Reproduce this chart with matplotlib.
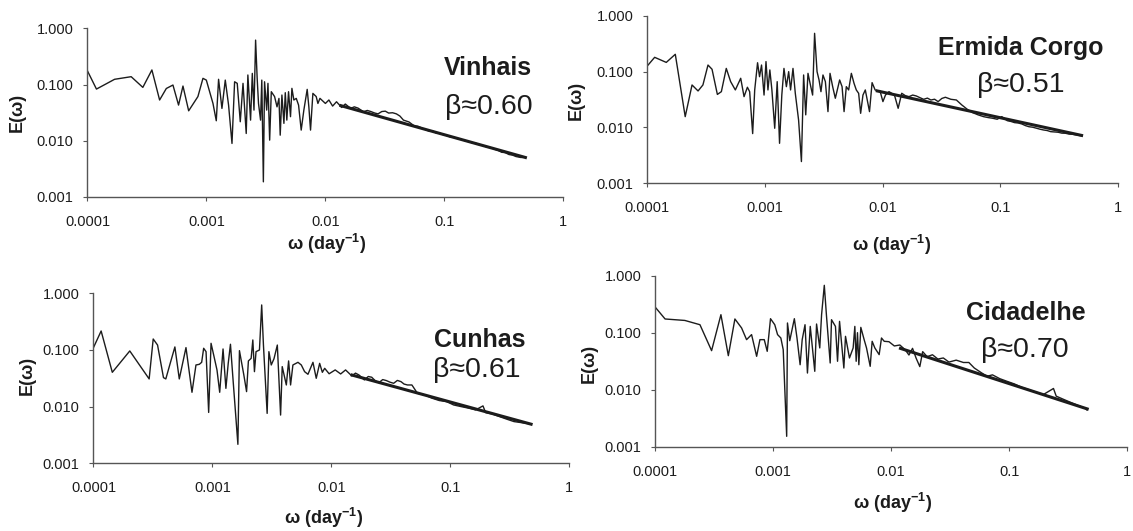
import numpy as np
import matplotlib
matplotlib.use('Agg')
import matplotlib.pyplot as plt
from matplotlib.ticker import FixedLocator, FixedFormatter

plt.rcParams['font.family'] = ['Liberation Sans', 'DejaVu Sans']
plt.rcParams['mathtext.fontset'] = 'custom'
plt.rcParams['mathtext.rm'] = 'Liberation Sans'
plt.rcParams['mathtext.bf'] = 'Liberation Sans:bold'

# ---- Vinhais ----
vin_w = [1.0e-4, 1.19e-4, 1.69e-4, 2.33e-4, 2.92e-4, 3.48e-4, 4.04e-4, 4.60e-4, 5.23e-4, 5.83e-4,
         6.35e-4, 7.09e-4, 8.48e-4, 9.35e-4, 9.98e-4, 1.135e-3, 1.21e-3, 1.265e-3, 1.35e-3, 1.44e-3,
         1.535e-3, 1.64e-3, 1.725e-3, 1.815e-3, 1.925e-3, 2.03e-3, 2.16e-3, 2.23e-3, 2.35e-3, 2.43e-3,
         2.51e-3, 2.59e-3, 2.67e-3, 2.74e-3, 2.85e-3, 2.92e-3, 3.01e-3, 3.08e-3, 3.21e-3, 3.29e-3,
         3.40e-3, 3.51e-3, 3.74e-3, 3.92e-3, 4.07e-3, 4.17e-3, 4.31e-3, 4.48e-3, 4.60e-3, 4.74e-3,
         4.90e-3, 5.09e-3, 5.23e-3, 5.43e-3, 5.69e-3, 5.95e-3, 6.26e-3, 6.59e-3, 7.03e-3, 7.26e-3,
         7.50e-3, 7.85e-3, 8.37e-3, 8.65e-3, 9.0e-3, 0.0100, 0.0107, 0.0115, 0.0124, 0.0137,
         0.0147, 0.0163, 0.0175, 0.0188, 0.0209, 0.0225, 0.0241, 0.0260, 0.0277, 0.0298, 0.0319,
         0.0340, 0.0367, 0.0395, 0.0423, 0.0453, 0.0504, 0.056, 0.060, 0.0644, 0.069, 0.0742, 0.080,
         0.0855, 0.092, 0.0984, 0.105, 0.113, 0.121, 0.130, 0.140, 0.150, 0.161, 0.173, 0.186, 0.199,
         0.214, 0.229, 0.245, 0.263, 0.283, 0.303, 0.325, 0.349, 0.375, 0.40, 0.44, 0.48]
vin_e = [0.175, 0.083, 0.124, 0.138, 0.089, 0.182, 0.053, 0.085, 0.098, 0.043,
         0.094, 0.034, 0.061, 0.129, 0.120, 0.046, 0.0226, 0.124, 0.0375, 0.120,
         0.043, 0.0089, 0.112, 0.105, 0.0217, 0.105, 0.0134, 0.148, 0.0232, 0.158,
         0.035, 0.62, 0.129, 0.046, 0.0232, 0.120, 0.00184, 0.112, 0.035, 0.105,
         0.0102, 0.0745, 0.061, 0.040, 0.0566, 0.0125, 0.065, 0.0203, 0.0715, 0.0232,
         0.0745, 0.0267, 0.0855, 0.053, 0.0566, 0.043, 0.0154, 0.035, 0.082, 0.040,
         0.0154, 0.0695, 0.061, 0.046, 0.0567, 0.046, 0.053, 0.0413, 0.0493, 0.039,
         0.0449, 0.0376, 0.0400, 0.0380, 0.0327, 0.0345, 0.0330, 0.0310, 0.0300, 0.0330, 0.0335,
         0.0310, 0.0314, 0.0300, 0.0274, 0.0232, 0.0215, 0.0182, 0.0180, 0.0168, 0.0158, 0.0148, 0.0148,
         0.0136, 0.0135, 0.0127, 0.0123, 0.0115, 0.0114, 0.0108, 0.0104, 0.0099, 0.0096, 0.0090, 0.0089,
         0.0084, 0.0081, 0.00765, 0.0075, 0.00705, 0.0067, 0.0062, 0.0061, 0.00565, 0.0055, 0.0052,
         0.0050, 0.00505]
vin_fit_w = [0.0135, 0.48]
vin_fit_e = [0.042, 0.0050]

# ---- Ermida Corgo ----
erm_w = [1.0e-4, 1.155e-4, 1.45e-4, 1.73e-4, 2.10e-4, 2.40e-4, 2.70e-4, 2.97e-4, 3.28e-4, 3.55e-4,
         3.94e-4, 4.26e-4, 4.69e-4, 5.11e-4, 5.60e-4, 6.22e-4, 6.64e-4, 7.09e-4, 7.41e-4, 7.86e-4,
         8.18e-4, 8.65e-4, 8.99e-4, 9.35e-4, 9.82e-4, 1.02e-3, 1.06e-3, 1.10e-3, 1.145e-3, 1.21e-3,
         1.27e-3, 1.33e-3, 1.39e-3, 1.45e-3, 1.52e-3, 1.59e-3, 1.65e-3, 1.73e-3, 1.81e-3, 1.93e-3,
         2.04e-3, 2.13e-3, 2.22e-3, 2.32e-3, 2.45e-3, 2.54e-3, 2.64e-3, 2.77e-3, 2.88e-3, 2.99e-3,
         3.11e-3, 3.26e-3, 3.43e-3, 3.57e-3, 3.76e-3, 3.96e-3, 4.18e-3, 4.31e-3, 4.52e-3, 4.70e-3,
         4.91e-3, 5.14e-3, 5.42e-3, 5.71e-3, 5.97e-3, 6.25e-3, 6.50e-3, 6.80e-3, 7.12e-3, 7.73e-3,
         8.13e-3, 8.63e-3, 9.09e-3, 9.48e-3, 0.01005, 0.01057, 0.01132, 0.01259, 0.01354, 0.01452,
         0.01560, 0.01675, 0.0180, 0.0193, 0.0208, 0.0223, 0.0240, 0.0257, 0.0276, 0.0296, 0.0318,
         0.0341, 0.038, 0.0423, 0.047, 0.0524, 0.0582, 0.0647, 0.0720, 0.0790, 0.0861, 0.094, 0.1028,
         0.1146, 0.123, 0.132, 0.142, 0.152, 0.163, 0.175, 0.188, 0.202, 0.217, 0.233, 0.250, 0.268,
         0.289, 0.310, 0.333, 0.357, 0.383, 0.411, 0.45, 0.492]
erm_e = [0.126, 0.180, 0.146, 0.204, 0.0156, 0.0576, 0.045, 0.0576, 0.131, 0.110,
         0.039, 0.0437, 0.114, 0.066, 0.0469, 0.0759, 0.0356, 0.0524, 0.0437, 0.00776,
         0.0469, 0.144, 0.081, 0.131, 0.038, 0.151, 0.0469, 0.107, 0.0469, 0.00966,
         0.066, 0.0052, 0.038, 0.114, 0.0537, 0.0997, 0.0469, 0.114, 0.0408, 0.0136,
         0.00245, 0.0869, 0.0168, 0.093, 0.0537, 0.038, 0.484, 0.0997, 0.0708, 0.0437,
         0.0869, 0.066, 0.0192, 0.093, 0.0537, 0.0333, 0.0537, 0.0708, 0.0537, 0.0192,
         0.0537, 0.0469, 0.093, 0.0617, 0.0469, 0.0408, 0.0179, 0.038, 0.0469, 0.0192,
         0.0634, 0.0469, 0.045, 0.0456, 0.029, 0.0381, 0.0437, 0.0381, 0.022, 0.0409,
         0.0370, 0.0356, 0.0380, 0.0366, 0.0340, 0.0319, 0.0335, 0.031, 0.0320, 0.029, 0.0330,
         0.0347, 0.0319, 0.031, 0.0253, 0.0211, 0.0184, 0.0168, 0.0156, 0.0150, 0.0146, 0.0140, 0.0156,
         0.0132, 0.0128, 0.0122, 0.0120, 0.01155, 0.0108, 0.0103, 0.0101, 0.0097, 0.0093, 0.0090, 0.0088,
         0.0084, 0.0083, 0.0082, 0.0079, 0.00787, 0.0076, 0.00755, 0.0073, 0.00705]
erm_fit_w = [0.009, 0.49]
erm_fit_e = [0.045, 0.0072]

# ---- Cunhas ----
cun_w = [1.0e-4, 1.16e-4, 1.44e-4, 2.02e-4, 2.94e-4, 3.18e-4, 3.46e-4, 3.88e-4, 4.06e-4, 4.42e-4,
         4.84e-4, 5.27e-4, 6.0e-4, 6.74e-4, 7.28e-4, 7.77e-4, 8.13e-4, 8.45e-4, 8.85e-4, 9.31e-4,
         9.75e-4, 1.026e-3, 1.094e-3, 1.153e-3, 1.23e-3, 1.30e-3, 1.36e-3, 1.42e-3, 1.49e-3, 1.64e-3,
         1.69e-3, 1.84e-3, 1.94e-3, 2.01e-3, 2.12e-3, 2.19e-3, 2.26e-3, 2.33e-3, 2.49e-3, 2.60e-3,
         2.69e-3, 2.89e-3, 2.99e-3, 3.13e-3, 3.30e-3, 3.52e-3, 3.75e-3, 3.87e-3, 4.19e-3, 4.38e-3,
         4.55e-3, 4.76e-3, 5.25e-3, 5.60e-3, 5.97e-3, 6.37e-3, 7.02e-3, 7.48e-3, 7.99e-3, 8.42e-3,
         8.81e-3, 9.6e-3, 0.0108, 0.0120, 0.0132, 0.0149, 0.0160, 0.0171, 0.0190, 0.0205, 0.0219,
         0.0235, 0.0252, 0.0271, 0.0291, 0.0312, 0.0335, 0.0360, 0.0386, 0.0410, 0.0438, 0.0477,
         0.0531, 0.0611, 0.0703, 0.0811, 0.0933, 0.107, 0.124, 0.143, 0.164, 0.189, 0.199, 0.226,
         0.260, 0.300, 0.345, 0.397, 0.474]
cun_e = [0.11, 0.216, 0.0403, 0.096, 0.0308, 0.156, 0.122, 0.0325, 0.0308, 0.058,
         0.113, 0.0308, 0.110, 0.0179, 0.0543, 0.0558, 0.0605, 0.107, 0.0933, 0.0079,
         0.131, 0.0815, 0.0443, 0.0179, 0.104, 0.021, 0.058, 0.126, 0.0316, 0.00216,
         0.0972, 0.0362, 0.0184, 0.064, 0.0711, 0.150, 0.0414, 0.0933, 0.0998, 0.622,
         0.122, 0.0076, 0.0933, 0.0543, 0.0700, 0.122, 0.0071, 0.0508, 0.0241, 0.064,
         0.0241, 0.0543, 0.0605, 0.0543, 0.0414, 0.0372, 0.0605, 0.0316, 0.058, 0.0403,
         0.0474, 0.0380, 0.0444, 0.0377, 0.0444, 0.0348, 0.0390, 0.0362, 0.0296, 0.0340, 0.033,
         0.0285, 0.0265, 0.0300, 0.0288, 0.0270, 0.0258, 0.0290, 0.0276, 0.0250, 0.0241, 0.0241,
         0.0172, 0.0161, 0.0141, 0.0128, 0.0123, 0.0107, 0.0100, 0.0094, 0.00875, 0.0103, 0.00783, 0.00743,
         0.00667, 0.0060, 0.00544, 0.00522, 0.00495]
cun_fit_w = [0.015, 0.48]
cun_fit_e = [0.036, 0.0049]

# ---- Cidadelhe ----
cid_w = [1.0e-4, 1.21e-4, 1.78e-4, 2.39e-4, 3.0e-4, 3.60e-4, 4.16e-4, 4.73e-4, 5.39e-4, 5.94e-4,
         6.55e-4, 7.23e-4, 7.71e-4, 8.39e-4, 8.89e-4, 9.48e-4, 1.03e-3, 1.088e-3, 1.16e-3, 1.215e-3,
         1.30e-3, 1.32e-3, 1.38e-3, 1.51e-3, 1.59e-3, 1.69e-3, 1.76e-3, 1.86e-3, 1.95e-3, 2.06e-3,
         2.25e-3, 2.33e-3, 2.48e-3, 2.57e-3, 2.71e-3, 2.83e-3, 3.04e-3, 3.12e-3, 3.37e-3, 3.51e-3,
         3.65e-3, 3.97e-3, 4.10e-3, 4.43e-3, 4.76e-3, 4.92e-3, 5.05e-3, 5.18e-3, 5.32e-3, 5.53e-3,
         5.90e-3, 6.18e-3, 6.64e-3, 6.90e-3, 7.27e-3, 7.91e-3, 8.28e-3, 8.73e-3, 9.58e-3, 0.01064,
         0.01185, 0.0132, 0.01415, 0.01518, 0.0163, 0.0175, 0.0185, 0.0202, 0.0224, 0.0249, 0.0277,
         0.0309, 0.0356, 0.0410, 0.0456, 0.0507, 0.0585, 0.0651, 0.0723, 0.0834, 0.0962, 0.111, 0.128,
         0.147, 0.170, 0.195, 0.238, 0.251, 0.288, 0.332, 0.384, 0.442, 0.458]
cid_e = [0.279, 0.174, 0.164, 0.138, 0.0484, 0.207, 0.0395, 0.174, 0.121, 0.0755,
         0.0925, 0.0385, 0.0755, 0.0755, 0.0471, 0.176, 0.138, 0.0925, 0.0807, 0.0504,
         0.00152, 0.148, 0.0724, 0.176, 0.0807, 0.0274, 0.0755, 0.138, 0.0196, 0.129,
         0.0210, 0.142, 0.054, 0.207, 0.678, 0.194, 0.0294, 0.169, 0.129, 0.0315,
         0.158, 0.0240, 0.0863, 0.036, 0.054, 0.129, 0.0315, 0.100, 0.0274, 0.124,
         0.0755, 0.054, 0.0257, 0.0706, 0.054, 0.0412, 0.0807, 0.0706, 0.0695, 0.0585,
         0.0608, 0.0497, 0.0406, 0.0531, 0.0355, 0.0254, 0.0465, 0.0379, 0.0410, 0.0345, 0.0360,
         0.0305, 0.0330, 0.0300, 0.0300, 0.0240, 0.0197, 0.0172, 0.0182, 0.0156, 0.0140, 0.0126, 0.0110,
         0.0100, 0.0090, 0.0082, 0.0105, 0.0077, 0.0068, 0.0060, 0.0053, 0.0047, 0.0044]
cid_fit_w = [0.012, 0.46]
cid_fit_e = [0.053, 0.0046]

names = ['Vinhais', 'Ermida Corgo', 'Cunhas', 'Cidadelhe']
betas = ['β≈0.60', 'β≈0.51', 'β≈0.61', 'β≈0.70']

x_ticks = [1e-4, 1e-3, 1e-2, 1e-1, 1]
x_ticklabels = ['0.0001', '0.001', '0.01', '0.1', '1']
y_ticks = [1e-3, 1e-2, 1e-1, 1]
y_ticklabels = ['0.001', '0.010', '0.100', '1.000']

fig = plt.figure(figsize=(11.33, 5.31), dpi=100)

panels = [
    # rect, series, fit, name pos, beta pos, xlabel pos, ylabel pos
    ([0.0772, 0.6296, 0.420, 0.3168], vin_w, vin_e, vin_fit_w, vin_fit_e,
     (0.841, 0.762), (0.843, 0.533), (0.502, -0.281), (-0.148, 0.50)),
    ([0.5713, 0.6548, 0.4155, 0.3156], erm_w, erm_e, erm_fit_w, erm_fit_e,
     (0.794, 0.807), (0.794, 0.587), (0.518, -0.368), (-0.151, 0.497)),
    ([0.0825, 0.1275, 0.4197, 0.3202], cun_w, cun_e, cun_fit_w, cun_fit_e,
     (0.813, 0.725), (0.807, 0.549), (0.485, -0.322), (-0.140, 0.519)),
    ([0.5784, 0.1588, 0.4163, 0.3220], cid_w, cid_e, cid_fit_w, cid_fit_e,
     (0.786, 0.782), (0.784, 0.565), (0.504, -0.329), (-0.141, 0.489)),
]

ink = '#1c1c1c'
for i, (rect, w, e, fw, fe, npos, bpos, xlp, ylp) in enumerate(panels):
    ax = fig.add_axes(rect)
    ax.plot(w, e, color=ink, lw=1.0)
    ax.plot(fw, fe, color=ink, lw=2.2)
    ax.set_xscale('log')
    ax.set_yscale('log')
    ax.set_xlim(1e-4, 1)
    ax.set_ylim(1e-3, 1)
    ax.xaxis.set_major_locator(FixedLocator(x_ticks))
    ax.xaxis.set_major_formatter(FixedFormatter(x_ticklabels))
    ax.yaxis.set_major_locator(FixedLocator(y_ticks))
    ax.yaxis.set_major_formatter(FixedFormatter(y_ticklabels))
    ax.minorticks_off()
    for s in ['top', 'right']:
        ax.spines[s].set_visible(False)
    for s in ['left', 'bottom']:
        ax.spines[s].set_color('#555555')
        ax.spines[s].set_linewidth(1.0)
    ax.tick_params(axis='both', direction='out', length=3, width=0.8, color='#555555',
                   labelsize=10.5, labelcolor=ink)
    ax.tick_params(axis='x', pad=10)
    ax.tick_params(axis='y', pad=7)
    ax.set_xlabel(r'ω (day$^{\mathbf{-1}}$)', fontsize=13, fontweight='bold', color=ink)
    ax.xaxis.set_label_coords(*xlp)
    ax.xaxis.label.set_va('center')
    ax.set_ylabel('E(ω)', fontsize=13, fontweight='bold', color=ink)
    ax.yaxis.set_label_coords(*ylp)
    ax.yaxis.label.set_va('center')
    ax.text(npos[0], npos[1], names[i], transform=ax.transAxes, ha='center', va='center',
            fontsize=18, fontweight='bold', color=ink)
    ax.text(bpos[0], bpos[1], betas[i], transform=ax.transAxes, ha='center', va='center',
            fontsize=20.5, color=ink)

fig.savefig('out.png', dpi=100)
